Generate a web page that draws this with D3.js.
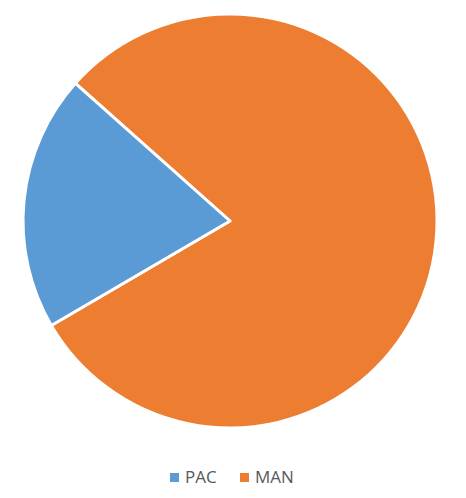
<!DOCTYPE html>
<html>
<head>
<meta charset="utf-8">
<script src="https://cdn.jsdelivr.net/npm/d3@7"></script>
<style>body{margin:0;background:#fff;}</style>
</head>
<body>
<div id="chart"></div>
<script>
var categories = ["MAN", "PAC"];
var values = [80, 20];
var colors = ["#ED7D31", "#5B9BD5"];
var legendOrder = ["PAC", "MAN"];

var w = 466, h = 498;
var cx = 230, cy = 221, r = 207;

var svg = d3.select("#chart").append("svg").attr("width", w).attr("height", h);
var color = d3.scaleOrdinal().domain(categories).range(colors);

var pie = d3.pie().sort(null)
  .startAngle(-48.3 * Math.PI / 180)
  .endAngle((360 - 48.3) * Math.PI / 180);
var arc = d3.arc().innerRadius(0).outerRadius(r);

var data = categories.map(function(c, i) { return { name: c, value: values[i] }; });

svg.append("g").attr("transform", "translate(" + cx + "," + cy + ")")
  .selectAll("path")
  .data(pie.value(function(d) { return d.value; })(data))
  .enter().append("path")
  .attr("d", arc)
  .attr("fill", function(d) { return color(d.data.name); })
  .attr("stroke", "#fff")
  .attr("stroke-width", 3)
  .attr("stroke-linejoin", "round");

var legend = svg.append("g").attr("transform", "translate(170,477)");
var xs = [0, 70];
var item = legend.selectAll("g").data(legendOrder).enter().append("g")
  .attr("transform", function(d, i) { return "translate(" + xs[i] + ",0)"; });
item.append("rect").attr("x", 0).attr("y", -4).attr("width", 9).attr("height", 9)
  .attr("fill", function(d) { return color(d); });
item.append("text").attr("x", 15).attr("y", 6)
  .attr("font-family", "Open Sans, sans-serif").attr("font-size", 17)
  .attr("fill", "#595959").text(function(d) { return d; });
</script>
</body>
</html>
